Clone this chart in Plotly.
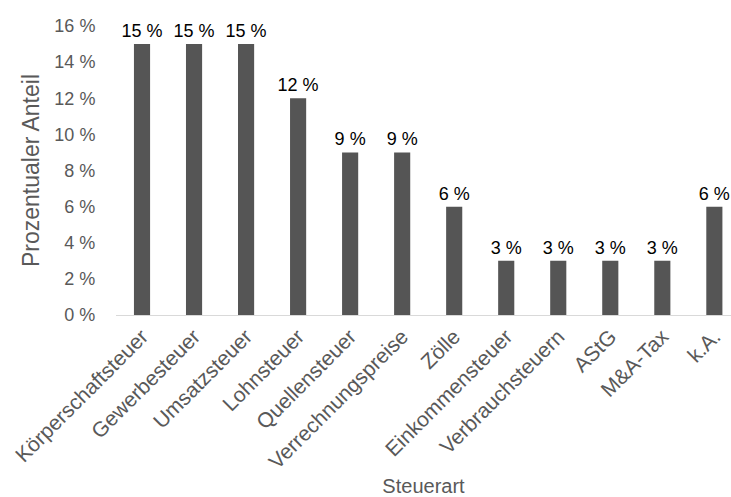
import plotly.graph_objects as go

# Steuerarten und ihr prozentualer Anteil
kategorien = ["Körperschaftsteuer", "Gewerbesteuer", "Umsatzsteuer", "Lohnsteuer",
              "Quellensteuer", "Verrechnungspreise", "Zölle", "Einkommensteuer",
              "Verbrauchsteuern", "AStG", "M&A-Tax", "k.A."]
anteile = [15, 15, 15, 12, 9, 9, 6, 3, 3, 3, 3, 6]
y_ticks = [0, 2, 4, 6, 8, 10, 12, 14, 16]

FONT = "Liberation Sans, Arial, sans-serif"
GRAU = "#595959"

fig = go.Figure(go.Bar(
    x=list(range(len(kategorien))),
    y=anteile,
    marker=dict(color="#555555", line=dict(width=0)),
    text=[f"{v} %" for v in anteile],
    textposition="outside",
    constraintext="none",
    textfont=dict(family=FONT, size=18, color="#000000"),
    cliponaxis=False,
))

fig.update_layout(
    width=731, height=497,
    margin=dict(l=116, r=0, t=26, b=182),
    plot_bgcolor="white", paper_bgcolor="white",
    bargap=0.69,
    showlegend=False,
    font=dict(family=FONT, size=16, color=GRAU),
    xaxis=dict(
        tickmode="array",
        tickvals=list(range(len(kategorien))),
        ticktext=kategorien,
        tickangle=-45,
        range=[-0.5, 11.32],
        showgrid=False,
        showline=True, linecolor="#d9d9d9", linewidth=1,
        ticks="", tickfont=dict(size=21, color=GRAU),
        title=dict(text="Steuerart", font=dict(size=20, color=GRAU), standoff=8),
    ),
    yaxis=dict(
        range=[0, 16],
        tickmode="array",
        tickvals=y_ticks,
        ticktext=[f"{t} %" for t in y_ticks],
        showgrid=False, zeroline=False, showline=False,
        ticks="outside", ticklen=16, tickcolor="rgba(0,0,0,0)",
        tickfont=dict(size=18, color=GRAU),
        title=dict(text="Prozentualer Anteil", font=dict(size=23, color=GRAU), standoff=8),
    ),
)

fig.write_html("out.html")
